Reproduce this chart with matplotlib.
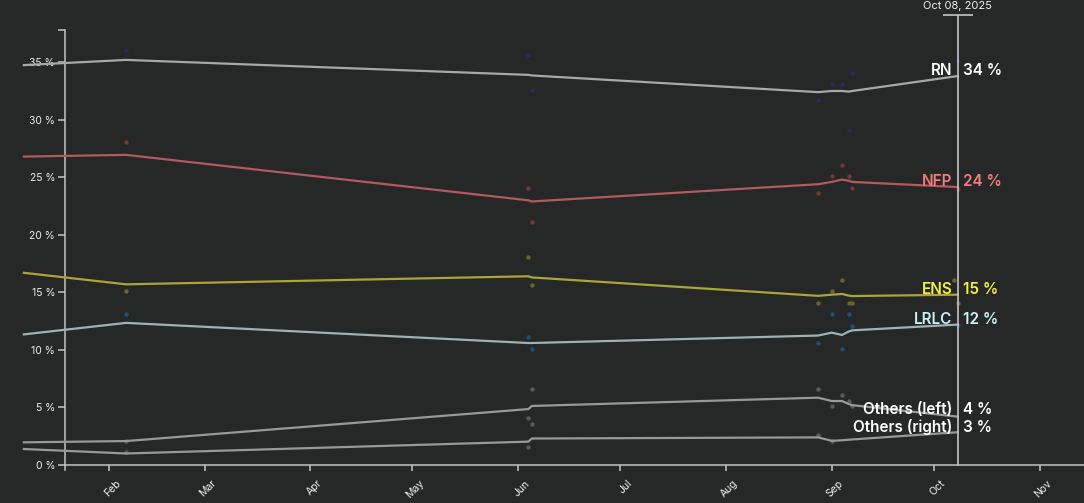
import matplotlib
matplotlib.use("Agg")
import matplotlib.pyplot as plt
import matplotlib.dates as mdates
import matplotlib.transforms as mtransforms
import pandas as pd

# --- DATA ---
parties = ["RN", "NFP", "ENS", "LRLC", "Others (left)", "Others (right)"]

trend_dates = pd.to_datetime([
    "2025-01-07", "2025-02-06", "2025-06-04", "2025-06-05", "2025-08-28",
    "2025-09-01", "2025-09-04", "2025-09-06", "2025-09-07", "2025-10-08",
])
rn_trend = [34.75, 35.2, 33.9, 33.85, 32.4, 32.5, 32.5, 32.45, 32.5, 33.8]
nfp_trend = [26.8, 26.95, 23.0, 22.9, 24.4, 24.6, 24.8, 24.7, 24.6, 24.15]
ens_trend = [16.7, 15.7, 16.4, 16.3, 14.7, 14.8, 14.86, 14.72, 14.68, 14.8]
lrlc_trend = [11.35, 12.35, 10.6, 10.6, 11.25, 11.5, 11.3, 11.6, 11.7, 12.2]
left_trend = [1.97, 2.08, 4.86, 5.13, 5.85, 5.56, 5.56, 5.3, 5.2, 4.2]
right_trend = [1.39, 1.0, 2.03, 2.3, 2.4, 2.1, 2.15, 2.2, 2.22, 2.85]

poll_dates = pd.to_datetime([
    "2025-02-06", "2025-06-04", "2025-06-05", "2025-08-28", "2025-09-01",
    "2025-09-04", "2025-09-06", "2025-09-07", "2025-10-07", "2025-10-08",
])
rn_polls = [36.05, 35.6, 32.6, 31.7, 33.1, 33.1, 29.1, 34.1, None, 35.1]
nfp_polls = [28.1, 24.1, 21.1, 23.6, 25.1, 26.1, 25.1, 24.1, None, 24.0]
ens_polls = [15.1, 18.1, 15.6, 14.1, 15.1, 16.1, 14.1, 14.1, 16.1, 14.1]
lrlc_polls = [13.1, 11.1, 10.05, 10.6, 13.1, 10.1, 13.1, 12.1, None, 12.15]
left_polls = [2.1, 4.1, 6.6, 6.6, 5.1, 6.1, 5.6, 5.1, None, None]
right_polls = [1.1, 1.6, 3.6, 2.65, 2.1, None, None, None, None, None]

trends = [rn_trend, nfp_trend, ens_trend, lrlc_trend, left_trend, right_trend]
polls = [rn_polls, nfp_polls, ens_polls, lrlc_polls, left_polls, right_polls]

line_colors = ["#a8a8a8", "#b25a5e", "#a9a63a", "#9db3b3", "#999999", "#999999"]
dot_colors = ["#2b2b5c", "#7a3535", "#6e6424", "#1f4f80", "#5a5a5a", "#5a5a5a"]
label_colors = ["#ffffff", "#f47c7c", "#f5f23a", "#c9f3f7", "#ffffff", "#ffffff"]

y_ticks = [0, 5, 10, 15, 20, 25, 30, 35]
current_date = pd.Timestamp("2025-10-08")

# --- STYLE ---
BG = "#262727"
AXIS = "#c4c4c4"
plt.rcParams["font.family"] = ["Inter", "DejaVu Sans"]

fig = plt.figure(figsize=(10.84, 5.03), dpi=100, facecolor=BG)
ax = fig.add_axes([0, 38 / 503, 1, 435 / 503])
ax.set_facecolor(BG)

x_min = mdates.date2num(pd.Timestamp("2024-12-31"))
x_max = mdates.date2num(pd.Timestamp("2025-11-14"))
y_spine_at = mdates.date2num(pd.Timestamp("2025-01-19"))
ax.set_xlim(x_min, x_max)
ax.set_ylim(0, 37.8)

# poll dots
for vals, c in zip(polls, dot_colors):
    pts = [(d, v) for d, v in zip(poll_dates, vals) if v is not None]
    ax.scatter([p[0] for p in pts], [p[1] for p in pts], s=10, color=c,
               linewidths=0, zorder=2)

# trend lines
for vals, c in zip(trends, line_colors):
    ax.plot(trend_dates, vals, color=c, lw=1.6, zorder=3, solid_joinstyle="round")

# axes
for side in ["top", "right"]:
    ax.spines[side].set_visible(False)
ax.spines["left"].set_position(("data", y_spine_at))
ax.spines["left"].set_bounds(-0.45, 37.8)
ax.spines["bottom"].set_bounds(y_spine_at, x_max)
for side in ["left", "bottom"]:
    ax.spines[side].set_color(AXIS)
    ax.spines[side].set_linewidth(1.1)

ax.set_yticks(y_ticks)
ax.set_yticklabels([f"{v} %" for v in y_ticks])
ax.set_yticks([37.8], minor=True)
ax.tick_params(axis="y", which="both", length=5, width=1.1, color=AXIS,
               labelcolor="#eeeeee", labelsize=7.5, pad=2)

ax.xaxis.set_major_locator(mdates.MonthLocator(bymonth=range(2, 12)))
ax.xaxis.set_major_formatter(mdates.DateFormatter("%b"))
ax.tick_params(axis="x", length=4, width=1.1, color=AXIS, labelcolor="#eeeeee",
               labelsize=7.5, pad=8)
shift = mtransforms.ScaledTranslation(0.10, 0, fig.dpi_scale_trans)
for lab in ax.get_xticklabels():
    lab.set_rotation(45)
    lab.set_rotation_mode("anchor")
    lab.set_ha("right")
    lab.set_va("center")
    lab.set_transform(lab.get_transform() + shift)

# current date marker
cd = mdates.date2num(current_date)
top = 39.1
ax.plot([cd, cd], [0, top], color=AXIS, lw=1.2, clip_on=False, zorder=4)
ax.plot([cd], [top], marker="_", ms=22, mew=1.2, color=AXIS, clip_on=False, zorder=4)
ax.annotate(current_date.strftime("%b %d, %Y"), (cd, top), xytext=(0, 3),
            textcoords="offset points", ha="center", va="bottom",
            fontsize=8, color="#f0f0f0", annotation_clip=False)

# end labels, pushed up when they collide
ends = [t[-1] for t in trends]
label_y = [e + 0.45 for e in ends]
order = sorted(range(len(ends)), key=lambda i: label_y[i])
for a, b in zip(order, order[1:]):
    if label_y[b] - label_y[a] < 1.55:
        label_y[b] = label_y[a] + 1.55

for name, e, ly, c in zip(parties, ends, label_y, label_colors):
    ax.annotate(name, (cd, ly), xytext=(-4, 0), textcoords="offset points",
                ha="right", va="center", fontsize=11, fontweight="semibold",
                color=c, zorder=5)
    ax.annotate(f"{round(e)} %", (cd, ly), xytext=(4, 0), textcoords="offset points",
                ha="left", va="center", fontsize=11, fontweight="semibold",
                color=c, zorder=5)

fig.savefig("out.png", dpi=100, facecolor=BG)
